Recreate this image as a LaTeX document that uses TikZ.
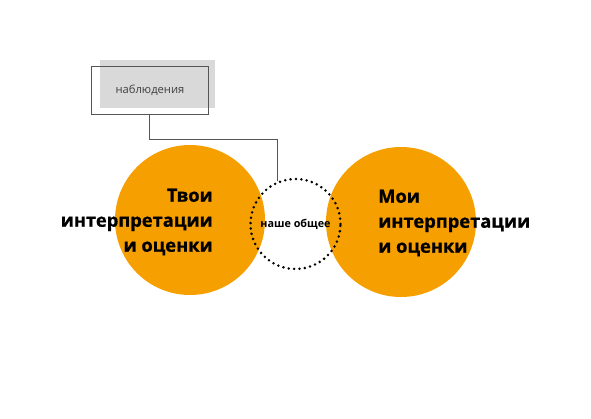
\documentclass[tikz,border=0pt]{standalone}
\usepackage{fontspec}
\setmainfont{Open Sans}
\usetikzlibrary{positioning}
\definecolor{view-orange}{RGB}{246, 159, 0}
\definecolor{note-gray}{RGB}{217, 217, 217}
\definecolor{line-gray}{RGB}{85, 85, 85}
\tikzset{
  view/.style={circle, fill=view-orange, minimum size=150pt, inner sep=0pt},
  viewtext/.style={font=\fontsize{18.3}{25}\selectfont\bfseries\addfontfeature{FakeBold=0.8}, inner sep=0pt},
  common/.style={circle, minimum size=90pt, inner sep=0pt, draw=black, line width=2.8pt,
    line cap=round, dash pattern=on 0pt off 5.4pt}
}
\begin{document}
\begin{tikzpicture}[x=1pt, y=-1pt]
  \useasboundingbox (0, 0) rectangle (591, 418);
  % two views
  \node[view] (you) at (190, 220) {};
  \node[view] (me) at (401, 222) {};
  \node[common] (ours) at (295.5, 224) {};
  \node[font=\fontsize{10.8}{12}\selectfont\bfseries, inner sep=0pt] at (ours) {наше общее};
  \node[viewtext, align=right, anchor=east] (youtext) at (213, 222) {Твои\\интерпретации\\и оценки};
  \node[viewtext, align=left, anchor=west] (metext) at (378, 223) {Мои\\интерпретации\\и оценки};
  % observations
  \fill[note-gray] (100, 60) rectangle (215, 108);
  \node[draw=line-gray, minimum width=117pt, minimum height=48pt, inner sep=0pt, anchor=north west] (obs) at (91, 66) {};
  \node[font=\fontsize{11.2}{13}\selectfont, text=black!75, inner sep=0pt] at (150, 90) {наблюдения};
  \draw[line-gray, line width=0.8pt] (obs.south) -- ++(0, 25) -| (ours.113);
\end{tikzpicture}
\end{document}
